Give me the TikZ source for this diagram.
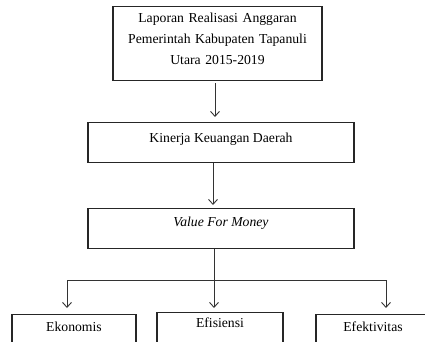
\documentclass[tikz,border=0pt]{standalone}
\usepackage{fontspec}
\setmainfont{Liberation Serif}
\usetikzlibrary{arrows.meta,positioning}

\begin{document}
\begin{tikzpicture}[x=1pt,y=-1pt,
  box/.style={draw=black!85, line width=1.1pt, inner sep=0pt, anchor=north, font=\fontsize{13.7}{21}\selectfont},
  arr/.style={-{Straight Barb[length=5pt,width=9pt]}, line width=0.9pt, black!80}]
\useasboundingbox (0,0) rectangle (425,342);

\node[box, minimum width=209pt, text width=200pt, align=center, text height=15.5pt, text depth=58.5pt] (r) at (217.5,6) {Laporan Realisasi Anggaran\\Pemerintah Kabupaten Tapanuli\\Utara 2015-2019};
\node[box, minimum width=266pt, text height=19.5pt, text depth=20.5pt] (k) at (221,122) {Kinerja Keuangan Daerah};
\node[box, minimum width=266pt, text height=17.5pt, text depth=22.5pt] (v) at (221,208) {\itshape Value For Money};
\node[box, minimum width=124pt, text height=16.5pt, text depth=26pt] (e) at (74,314) {Ekonomis};
\node[box, minimum width=126pt, text height=14.5pt, text depth=28pt] (s) at (220,312) {Efisiensi};
\node[box, minimum width=114pt, text height=16.5pt, text depth=26pt] (t) at (373,314) {Efektivitas};

\coordinate (j) at (214,280);

\draw[arr, shorten <=2pt, shorten >=5pt] ([xshift=-2.5pt]r.south) -- ([xshift=-2.5pt]r.south |- k.north);
\draw[arr, shorten >=3pt] ([xshift=-8pt]k.south) -- ([xshift=-8pt]k.south |- v.north);
\draw[line width=0.9pt, black!80] (j |- v.south) -- (j);
\draw[arr, shorten >=6pt] (j) -| ([xshift=-7pt]e.north);
\draw[arr, shorten >=4pt] (j) -- (j |- s.north);
\draw[arr, shorten >=6pt] (j) -| ([xshift=13pt]t.north);
\end{tikzpicture}
\end{document}
